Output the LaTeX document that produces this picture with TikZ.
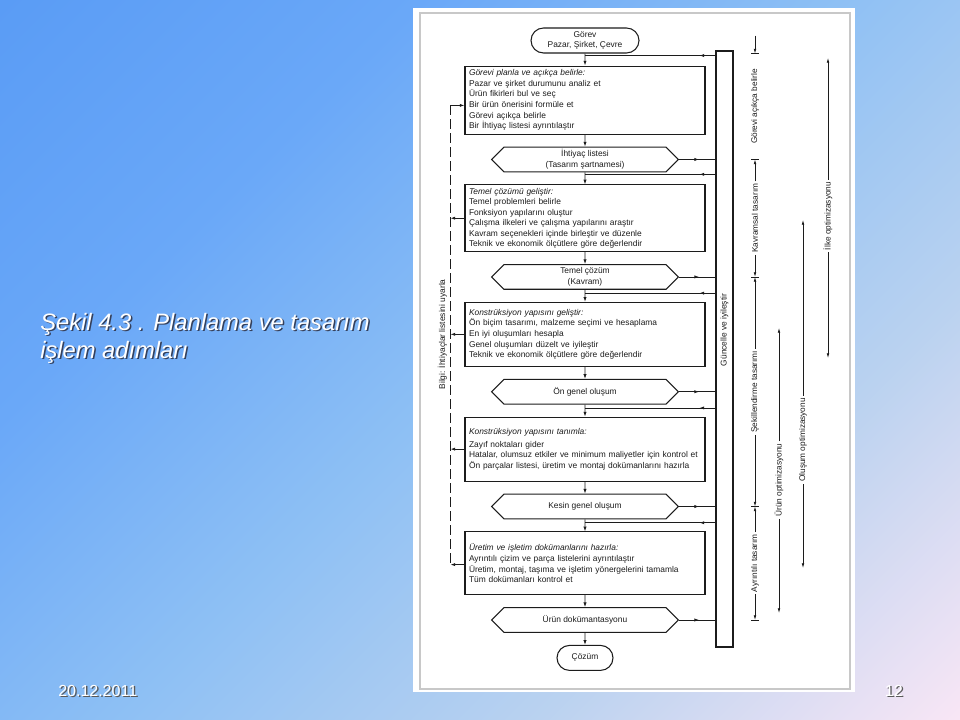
\documentclass[tikz,border=0pt]{standalone}
\usepackage{fontspec}
\setmainfont{Liberation Sans}
\usetikzlibrary{positioning, arrows.meta, shapes.misc, shapes.symbols, decorations.markings, calc}

\definecolor{bgA}{HTML}{5A9CF5}
\definecolor{bgB}{HTML}{6AA8F8}
\definecolor{bgC}{HTML}{8EC0F4}
\definecolor{bgD}{HTML}{BAD2F0}
\definecolor{bgE}{HTML}{F8E6F5}
\definecolor{ink}{HTML}{1C1C1C}
\definecolor{panelline}{HTML}{C8C8C8}
\definecolor{titleshade}{HTML}{34405C}
\pgfdeclarehorizontalshading{slidebg}{100bp}{color(0bp)=(bgA); color(14.6bp)=(bgA); color(32.3bp)=(bgB); color(50bp)=(bgC); color(67.7bp)=(bgD); color(85.4bp)=(bgE); color(100bp)=(bgE)}

\begin{document}
\begin{tikzpicture}[
        x=0.75pt, y=-0.75pt,
        node distance=9pt,
        every node/.style={text=ink, font=\fontsize{6.3}{7.9}\selectfont},
        term/.style={rounded rectangle, draw=ink, line width=0.8pt, minimum height=18.75pt, align=center, inner sep=1pt},
        stepbox/.style={rectangle, draw=ink, line width=0.8pt, minimum width=180pt, text width=174pt, inner xsep=3pt, inner ysep=1pt, align=left},
        hexa/.style={signal, signal to=east and west, signal pointer angle=90, draw=ink, line width=0.8pt, minimum width=140pt, minimum height=18.5pt, align=center, inner sep=1pt},
        flow/.style={draw=ink, line width=0.6pt, -{Latex[length=3.5pt, width=2.4pt]}},
        feed/.style={draw=ink, line width=0.6pt, postaction={decorate}, decoration={markings, mark=at position 0.55 with {\arrow{Latex[length=3.5pt, width=2.4pt]}}}},
        back/.style={draw=ink, line width=0.6pt, postaction={decorate}, decoration={markings, mark=at position 12pt with {\arrow{Latex[length=3.5pt, width=2.4pt]}}}},
        info/.style={draw=ink, line width=0.6pt},
        dimtip/.style={draw=ink, line width=0.5pt, -{Latex[length=3.5pt, width=2pt]}},
        dimtext/.style={rotate=90, fill=white, inner sep=1.5pt, font=\fontsize{6.2}{7}\selectfont},
        slide/.style={text=white, font=\itshape\fontsize{17.8}{21}\selectfont, align=left, inner sep=0pt},
        foot/.style={text=white, font=\fontsize{12}{12}\selectfont, inner sep=0pt}
    ]

        \useasboundingbox (0,0) rectangle (960,720);
        \shade[shading=slidebg, shading angle=-45] (0,0) rectangle (960,720);
        \fill[white] (413,8) rectangle (855,692);
        \draw[panelline, line width=1.5pt] (420,13.5) rectangle (849.5,688.5);

        \node[slide, text=titleshade, anchor=north west] (titleshadow) at (41.5,314.5) {Şekil 4.3 . Planlama ve tasarım\\işlem adımları};
        \node[slide, anchor=north west] (title) at (40,313) {Şekil 4.3 . Planlama ve tasarım\\işlem adımları};
        \node[foot, text=gray!70!black, anchor=base west] (dateshadow) at (59.5,697.5) {20.12.2011};
        \node[foot, anchor=base west] (date) at (58,696) {20.12.2011};
        \node[foot, text=gray!70!black, anchor=base east] (pageshadow) at (904.5,697.5) {12};
        \node[foot, anchor=base east] (page) at (903,696) {12};

        \node[term, minimum width=83pt] (task) at (585,40.5) {Görev\\Pazar, Şirket, Çevre};
        \node[stepbox, minimum height=51pt, below=of task] (plan) {\textit{Görevi planla ve açıkça belirle:}\\Pazar ve şirket durumunu analiz et\\Ürün fikirleri bul ve seç\\Bir ürün önerisini formüle et\\Görevi açıkça belirle\\Bir İhtiyaç listesi ayrıntılaştır};
        \node[hexa, below=of plan] (reqlist) {İhtiyaç listesi\\(Tasarım şartnamesi)};
        \node[stepbox, minimum height=50pt, below=of reqlist] (concept) {\textit{Temel çözümü geliştir:}\\Temel problemleri belirle\\Fonksiyon yapılarını oluştur\\Çalışma ilkeleri ve çalışma yapılarını araştır\\Kavram seçenekleri içinde birleştir ve düzenle\\Teknik ve ekonomik ölçütlere göre değerlendir};
        \node[hexa, below=of concept] (principle) {Temel çözüm\\(Kavram)};
        \node[stepbox, minimum height=48pt, below=of principle] (embody) {\textit{Konstrüksiyon yapısını geliştir:}\\Ön biçim tasarımı, malzeme seçimi ve hesaplama\\En iyi oluşumları hesapla\\Genel oluşumları düzelt ve iyileştir\\Teknik ve ekonomik ölçütlere göre değerlendir};
        \node[hexa, below=of embody] (prelim) {Ön genel oluşum};
        \node[stepbox, minimum height=48pt, below=of prelim] (define) {\textit{Konstrüksiyon yapısını tanımla:}\\[2pt]Zayıf noktaları gider\\Hatalar, olumsuz etkiler ve minimum maliyetler için kontrol et\\Ön parçalar listesi, üretim ve montaj dokümanlarını hazırla};
        \node[hexa, below=of define] (final) {Kesin genel oluşum};
        \node[stepbox, minimum height=47pt, below=of final] (docs) {\textit{Üretim ve işletim dokümanlarını hazırla:}\\Ayrıntılı çizim ve parça listelerini ayrıntılaştır\\Üretim, montaj, taşıma ve işletim yönergelerini tamamla\\Tüm dokümanları kontrol et};
        \node[hexa, below=of docs] (product) {Ürün dokümantasyonu};
        \node[term, minimum width=44pt, below=of product] (solution) {Çözüm};

        \draw[flow] (task) -- (plan);
        \draw[flow] (plan) -- (reqlist);
        \draw[flow] (reqlist) -- (concept);
        \draw[flow] (concept) -- (principle);
        \draw[flow] (principle) -- (embody);
        \draw[flow] (embody) -- (prelim);
        \draw[flow] (prelim) -- (define);
        \draw[flow] (define) -- (final);
        \draw[flow] (final) -- (docs);
        \draw[flow] (docs) -- (product);
        \draw[flow] (product) -- (solution);

        \node[draw=ink, line width=0.8pt, minimum width=12.75pt, minimum height=447pt, inner sep=0pt] (update) at (724.5,349) {};
        \node[rotate=90] (updatelabel) at (724.5,330) {Güncelle ve iyileştir};

        \coordinate (j0) at ([yshift=-1.5pt]task.south);
        \coordinate (j1) at ([yshift=-1.5pt]reqlist.south);
        \coordinate (j2) at ([yshift=-2.5pt]principle.south);
        \coordinate (j3) at ([yshift=-2.5pt]prelim.south);
        \coordinate (j4) at ([yshift=-2.5pt]final.south);

        \draw[back] (j0 -| update.west) -- (j0);
        \draw[back] (j1 -| update.west) -- (j1);
        \draw[back] (j2 -| update.west) -- (j2);
        \draw[back] (j3 -| update.west) -- (j3);
        \draw[back] (j4 -| update.west) -- (j4);

        \draw[feed] (reqlist.east) -- (reqlist.east -| update.west);
        \draw[feed] (principle.east) -- (principle.east -| update.west);
        \draw[feed] (prelim.east) -- (prelim.east -| update.west);
        \draw[feed] (final.east) -- (final.east -| update.west);
        \draw[feed] (product.east) -- (product.east -| update.west);

        \coordinate (infotop) at ([xshift=-10.5pt, yshift=-4pt]plan.west);
        \coordinate (infobot) at ([xshift=-10.5pt, yshift=-1pt]docs.west);
        \draw[info, dash pattern=on 7.5pt off 3pt] (infotop) -- (infobot);
        \draw[flow] (infotop) -- (infotop -| plan.west);
        \draw[flow] (concept.west) -- (concept.west -| infotop);
        \draw[flow] (embody.west) -- (embody.west -| infotop);
        \draw[flow] (define.west) -- (define.west -| infotop);
        \draw[flow] (infobot -| docs.west) -- (infobot);
        \node[rotate=90, anchor=south, inner sep=1pt] (infolabel) at ([xshift=-1.5pt]embody.west -| infotop) {Bilgi: İhtiyaçlar listesini uyarla};

        \coordinate (colA) at (755,0);
        \coordinate (t0) at (task.south -| colA);
        \coordinate (t1) at (reqlist -| colA);
        \coordinate (t2) at (principle -| colA);
        \coordinate (t4) at (final -| colA);
        \coordinate (t5) at (product -| colA);
        \draw[info] ([xshift=-3pt]t0) -- ([xshift=3pt]t0);
        \draw[info] ([xshift=-3pt]t1) -- ([xshift=3pt]t1);
        \draw[info] ([xshift=-3pt]t2) -- ([xshift=3pt]t2);
        \draw[info] ([xshift=-3pt]t4) -- ([xshift=3pt]t4);
        \draw[info] ([xshift=-3pt]t5) -- ([xshift=3pt]t5);

        \draw[dimtip] ([yshift=13.5pt]t0) -- (t0);
        \node[dimtext] (taskphase) at ($(t0)!0.5!(t1)$) {Görevi açıkça belirle};
        \node[dimtext] (conceptphase) at ($(t1)!0.5!(t2)$) {Kavramsal tasarım};
        \draw[dimtip] (conceptphase.east) -- (t1);
        \draw[dimtip] (conceptphase.west) -- (t2);
        \node[dimtext] (embodyphase) at ($(t2)!0.5!(t4)$) {Şekillendirme tasarımı};
        \draw[dimtip] (embodyphase.east) -- (t2);
        \draw[dimtip] (embodyphase.west) -- (t4);
        \node[dimtext] (detailphase) at ($(t4)!0.5!(t5)$) {Ayrıntılı tasarım};
        \draw[dimtip] (detailphase.east) -- (t4);
        \draw[dimtip] (detailphase.west) -- (t5);

        \node[dimtext] (productopt) at (779,480) {Ürün optimizasyonu};
        \coordinate (productopttop) at (779,328);
        \coordinate (productoptbot) at (779,613);
        \draw[dimtip] (productopt.east) -- (productopttop);
        \draw[dimtip] (productopt.west) -- (productoptbot);

        \node[dimtext] (formopt) at (803,440) {Oluşum optimizasyonu};
        \coordinate (formopttop) at (803,220);
        \coordinate (formoptbot) at (803,568);
        \draw[dimtip] (formopt.east) -- (formopttop);
        \draw[dimtip] (formopt.west) -- (formoptbot);

        \node[dimtext] (principleopt) at (828,216) {İlke optimizasyonu};
        \coordinate (principleopttop) at (828,58);
        \coordinate (principleoptbot) at (828,358);
        \draw[dimtip] (principleopt.east) -- (principleopttop);
        \draw[dimtip] (principleopt.west) -- (principleoptbot);

    \end{tikzpicture}
\end{document}
